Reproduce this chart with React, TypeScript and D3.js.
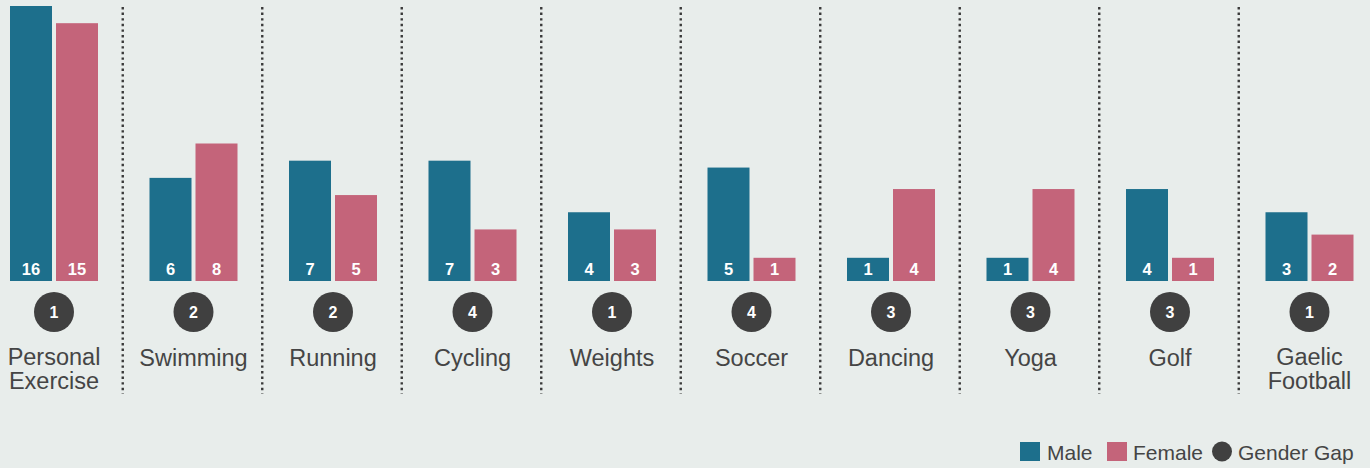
import React, { useEffect } from "react";
import * as d3 from "d3";

const categories = [
  ["Personal", "Exercise"],
  ["Swimming"],
  ["Running"],
  ["Cycling"],
  ["Weights"],
  ["Soccer"],
  ["Dancing"],
  ["Yoga"],
  ["Golf"],
  ["Gaelic", "Football"],
];
const maleValues = [16, 6, 7, 7, 4, 6.6, 1.35, 1.35, 5.35, 4];
const femaleValues = [15, 8, 5, 3, 3, 1.35, 5.35, 5.35, 1.35, 2.7];
const maleLabels = [16, 6, 7, 7, 4, 5, 1, 1, 4, 3];
const femaleLabels = [15, 8, 5, 3, 3, 1, 4, 4, 1, 2];
const genderGap = [1, 2, 2, 4, 1, 4, 3, 3, 3, 1];
const legendItems = ["Male", "Female", "Gender Gap"];

const W = 1370;
const H = 468;
const MALE = "#1d6f8c";
const FEMALE = "#c4647a";
const DARK = "#404040";
const TEXT = "#454545";
const BG = "#e8edeb";
const FONT = "'Liberation Sans', Arial, Helvetica, sans-serif";

export default function App() {
  useEffect(() => {
    document.body.style.margin = "0";
  }, []);

  const idx = categories.map((_, i) => String(i));
  const x = d3.scaleBand().domain(idx).range([-15.75, 1379.25]).padding(0);
  const y = d3.scaleLinear().domain([0, 16]).range([281, 6]);
  const bw = 42;
  const gapHalf = 2;

  return (
    <svg
      width={W}
      height={H}
      style={{ position: "absolute", left: 0, top: 0, background: BG, display: "block" }}
      fontFamily={FONT}
    >
      <rect x={0} y={0} width={W} height={H} fill={BG} />
      {idx.slice(1).map((k) => {
        const sx = (x(k) as number) - 1;
        return (
          <line
            key={"sep" + k}
            x1={sx}
            x2={sx}
            y1={7}
            y2={394}
            stroke="#3a3a3a"
            strokeWidth={2.4}
            strokeDasharray="2.4 3.2"
          />
        );
      })}
      {idx.map((k, i) => {
        const c = (x(k) as number) + x.bandwidth() / 2;
        const mx = c - gapHalf - bw;
        const fx = c + gapHalf;
        const base = y(0);
        const lines = categories[i];
        return (
          <g key={"g" + k}>
            <rect x={mx} y={y(maleValues[i])} width={bw} height={base - y(maleValues[i])} fill={MALE} />
            <rect x={fx} y={y(femaleValues[i])} width={bw} height={base - y(femaleValues[i])} fill={FEMALE} />
            <text x={mx + bw / 2} y={275} textAnchor="middle" fill="#fff" fontWeight="bold" fontSize={16.5}>
              {maleLabels[i]}
            </text>
            <text x={fx + bw / 2} y={275} textAnchor="middle" fill="#fff" fontWeight="bold" fontSize={16.5}>
              {femaleLabels[i]}
            </text>
            <circle cx={c} cy={312} r={20} fill={DARK} />
            <text x={c} y={317.5} textAnchor="middle" fill="#fff" fontWeight="bold" fontSize={16}>
              {genderGap[i]}
            </text>
            <text x={c} y={lines.length > 1 ? 365 : 366} textAnchor="middle" fill={TEXT} fontSize={23.5}>
              {lines.map((line, j) => (
                <tspan key={j} x={c} dy={j === 0 ? 0 : 24}>
                  {line}
                </tspan>
              ))}
            </text>
          </g>
        );
      })}
      <g>
        <rect x={1020} y={442} width={20} height={19} fill={MALE} />
        <text x={1047} y={460} fill={TEXT} fontSize={21}>{legendItems[0]}</text>
        <rect x={1107} y={442} width={20} height={19} fill={FEMALE} />
        <text x={1133} y={460} fill={TEXT} fontSize={21}>{legendItems[1]}</text>
        <circle cx={1222} cy={451.5} r={10} fill={DARK} />
        <text x={1238} y={460} fill={TEXT} fontSize={21}>{legendItems[2]}</text>
      </g>
    </svg>
  );
}
